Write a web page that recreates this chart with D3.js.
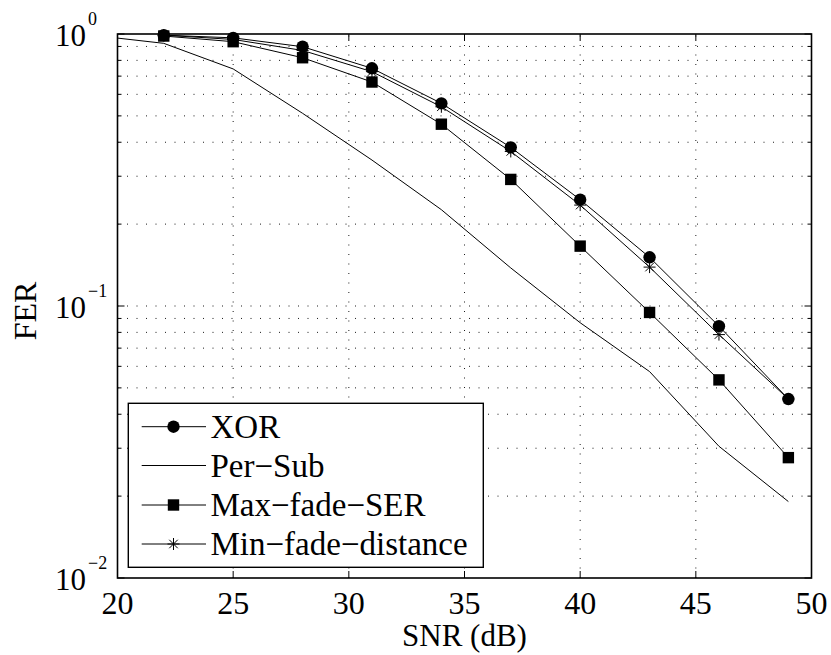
<!DOCTYPE html>
<html>
<head>
<meta charset="utf-8">
<script src="https://cdn.jsdelivr.net/npm/d3@7"></script>
</head>
<body style="margin:0;padding:0;background:#fff">
<svg id="chart" width="831" height="655" style="display:block"></svg>
<script>
// ---------------- data ----------------
const snr = [22, 25, 28, 31, 34, 37, 40, 43, 46, 49];
const snrPerSub = [20, 22, 25, 28, 31, 34, 37, 40, 43, 46, 49];
const ferXOR = [0.99, 0.968, 0.898, 0.748, 0.556, 0.383, 0.246, 0.151, 0.0843, 0.0455];
const ferPerSub = [0.966, 0.924, 0.744, 0.511, 0.344, 0.226, 0.138, 0.0868, 0.0574, 0.0305, 0.0191];
const ferMaxFadeSER = [0.983, 0.937, 0.818, 0.666, 0.466, 0.292, 0.166, 0.0947, 0.0535, 0.0277];
const ferMinFadeDist = [0.99, 0.955, 0.87, 0.727, 0.540, 0.370, 0.235, 0.139, 0.0785, 0.0455];
const xTicks = [20, 25, 30, 35, 40, 45, 50];
const yDecades = [0, -1, -2];
const legendLabels = ["XOR", "Per\u2212Sub", "Max\u2212fade\u2212SER", "Min\u2212fade\u2212distance"];

const serifFamily = "Liberation Serif";

// ---------------- layout ----------------
const svg = d3.select("#chart");
const L = 117.5, R = 811.5, T = 34, B = 578;
const x = d3.scaleLinear().domain([20, 50]).range([L, R]);
const y = d3.scaleLog().domain([0.01, 1]).range([B, T]);

// text helper: same approach that rendered the serif face in a test page
function addText(parent, size, str) {
  const t = parent.append("text").attr("font-size", size).style("font-family", serifFamily).text(str);
  t.node().getComputedTextLength();
  return t;
}

// ---------------- grid ----------------
const grid = svg.append("g").attr("stroke", "#000").attr("stroke-width", 0.9)
  .attr("stroke-dasharray", "1,8.5").attr("fill", "none");
xTicks.slice(1, -1).forEach(t => {
  grid.append("line").attr("x1", x(t)).attr("x2", x(t)).attr("y1", B).attr("y2", T);
});
const yGridVals = [];
for (let e = -2; e < 0; e++) {
  for (let m = 1; m <= 9; m++) yGridVals.push(m * Math.pow(10, e));
}
yGridVals.forEach(v => {
  if (v === 0.01) return;
  grid.append("line").attr("x1", L).attr("x2", R).attr("y1", y(v)).attr("y2", y(v));
});

// ---------------- ticks ----------------
const ticks = svg.append("g").attr("stroke", "#000").attr("stroke-width", 1);
xTicks.forEach(t => {
  ticks.append("line").attr("x1", x(t)).attr("x2", x(t)).attr("y1", B).attr("y2", B - 7);
  ticks.append("line").attr("x1", x(t)).attr("x2", x(t)).attr("y1", T).attr("y2", T + 7);
});
yGridVals.concat([1]).forEach(v => {
  const major = Math.abs(Math.log10(v) - Math.round(Math.log10(v))) < 1e-9;
  const len = major ? 7 : 4;
  ticks.append("line").attr("x1", L).attr("x2", L + len).attr("y1", y(v)).attr("y2", y(v));
  ticks.append("line").attr("x1", R).attr("x2", R - len).attr("y1", y(v)).attr("y2", y(v));
});

// frame
svg.append("rect").attr("x", L).attr("y", T).attr("width", R - L).attr("height", B - T)
  .attr("fill", "none").attr("stroke", "#000").attr("stroke-width", 1.6);

// ---------------- tick labels ----------------
xTicks.forEach(t => {
  addText(svg, 32, String(t)).attr("x", x(t)).attr("y", 614).attr("text-anchor", "middle");
});
yDecades.forEach(e => {
  const yy = y(Math.pow(10, e));
  addText(svg, 31, "10").attr("x", 55).attr("y", yy + 12);
  addText(svg, 18, e === 0 ? "0" : "\u2212" + (-e)).attr("x", 88).attr("y", yy - 9);
});

// axis titles
addText(svg, 31, "SNR (dB)").attr("x", (L + R) / 2).attr("y", 646).attr("text-anchor", "middle");
addText(svg, 32, "FER").attr("transform", `translate(36,${(T + B) / 2 + 5}) rotate(-90)`)
  .attr("text-anchor", "middle");

// ---------------- series ----------------
const line = d3.line().x(d => x(d[0])).y(d => y(d[1]));
const zip = (xs, ys) => xs.map((v, i) => [v, ys[i]]);
const series = [
  { data: zip(snr, ferXOR), marker: "circle" },
  { data: zip(snrPerSub, ferPerSub), marker: "none" },
  { data: zip(snr, ferMaxFadeSER), marker: "square" },
  { data: zip(snr, ferMinFadeDist), marker: "star" }
];

const plot = svg.append("g");
series.forEach(s => {
  plot.append("path").attr("d", line(s.data)).attr("fill", "none")
    .attr("stroke", "#000").attr("stroke-width", 1);
});

function drawMarker(g, type, cx, cy) {
  if (type === "circle") {
    g.append("circle").attr("cx", cx).attr("cy", cy).attr("r", 6.2).attr("fill", "#000");
  } else if (type === "square") {
    g.append("rect").attr("x", cx - 5.7).attr("y", cy - 5.7).attr("width", 11.4).attr("height", 11.4)
      .attr("fill", "#000");
  } else if (type === "star") {
    const r = 6, d = r * 0.7071;
    const p = `M${cx - r},${cy}L${cx + r},${cy}M${cx},${cy - r}L${cx},${cy + r}` +
      `M${cx - d},${cy - d}L${cx + d},${cy + d}M${cx - d},${cy + d}L${cx + d},${cy - d}`;
    g.append("path").attr("d", p).attr("stroke", "#000").attr("stroke-width", 1).attr("fill", "none");
  }
}
[3, 2, 0].forEach(i => {
  const s = series[i];
  s.data.forEach(d => drawMarker(plot, s.marker, x(d[0]), y(d[1])));
});

// ---------------- legend ----------------
const lg = svg.append("g");
lg.append("rect").attr("x", 128.3).attr("y", 403.3).attr("width", 355).attr("height", 164)
  .attr("fill", "#fff").attr("stroke", "#000").attr("stroke-width", 1.4);
const rowsY = [426.7, 465.5, 505, 544];
series.forEach((s, i) => {
  const yy = rowsY[i];
  lg.append("line").attr("x1", 141.7).attr("x2", 206).attr("y1", yy).attr("y2", yy)
    .attr("stroke", "#000").attr("stroke-width", 1);
  drawMarker(lg, s.marker, 173.5, yy);
  addText(lg, 33, legendLabels[i]).attr("x", 210.5).attr("y", yy + 11);
});
</script>
</body>
</html>
